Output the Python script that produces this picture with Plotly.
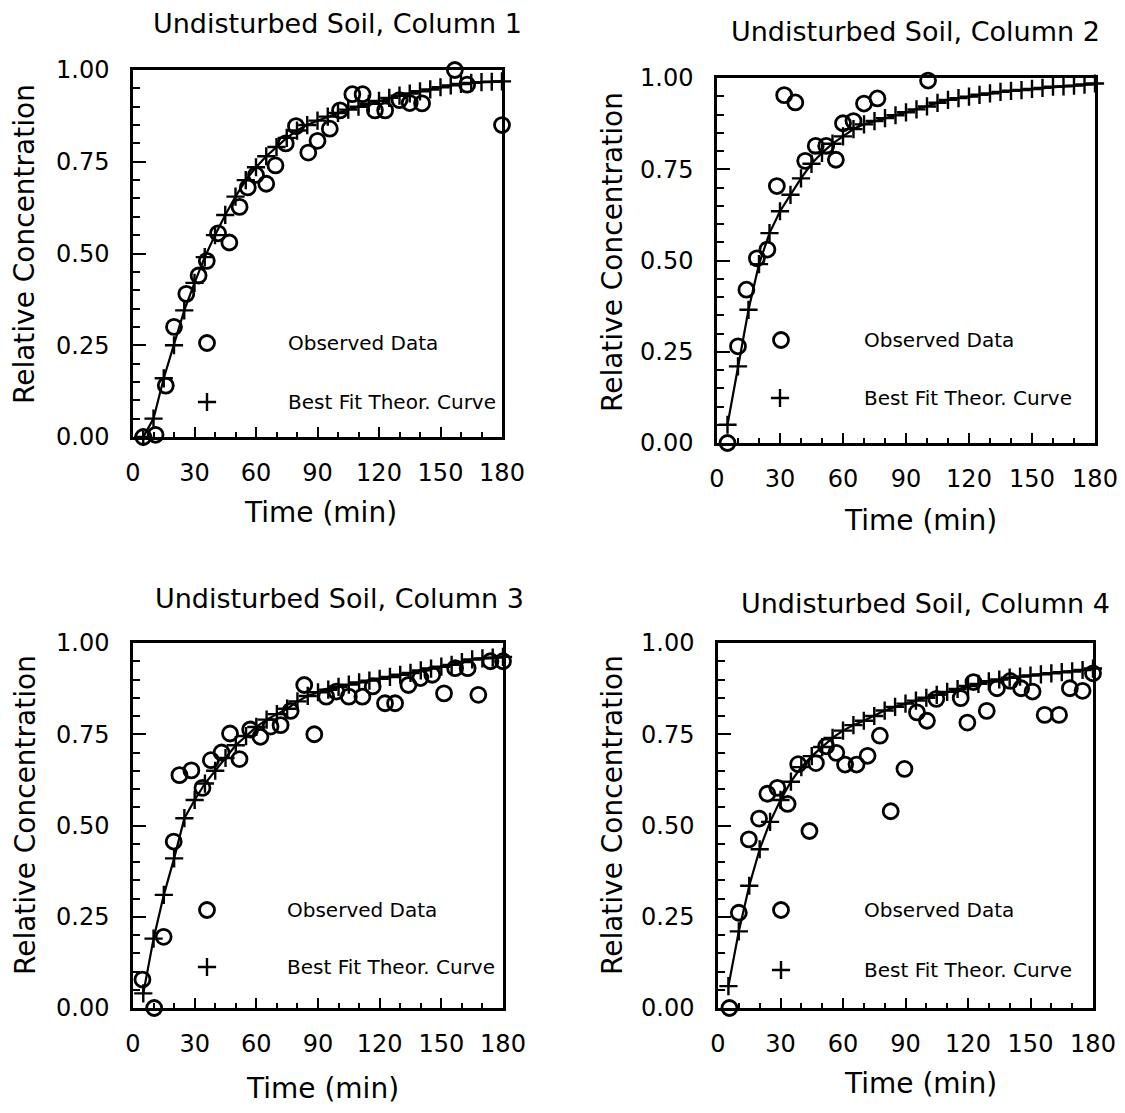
import plotly.graph_objects as go

PAGE_W, PAGE_H = 1125, 1113
BODY_MARGIN = 8
W, H = PAGE_W - 2 * BODY_MARGIN, PAGE_H - 2 * BODY_MARGIN

# ---------------- data ----------------
TITLES = ["Undisturbed Soil, Column 1", "Undisturbed Soil, Column 2",
          "Undisturbed Soil, Column 3", "Undisturbed Soil, Column 4"]
X_TITLE = "Time (min)"
Y_TITLE = "Relative Concentration"
LEGEND_OBS = "Observed Data"
LEGEND_FIT = "Best Fit Theor. Curve"
X_TICKS = [0, 30, 60, 90, 120, 150, 180]
Y_TICKS = [0.0, 0.25, 0.50, 0.75, 1.00]

obs_time_1 = [5, 11, 16, 20, 26, 32, 36, 41.5, 47, 52, 56, 60, 65, 69.5, 74.5, 79.5,
              85.5, 90, 96, 101, 107, 112, 118, 123, 130, 135, 141, 157, 163, 180]
obs_conc_1 = [0.0, 0.006, 0.14, 0.30, 0.39, 0.44, 0.48, 0.555, 0.53, 0.627, 0.68, 0.714,
              0.69, 0.74, 0.80, 0.847, 0.775, 0.807, 0.84, 0.89, 0.934, 0.934, 0.89, 0.89,
              0.918, 0.91, 0.909, 1.0, 0.96, 0.85]

obs_time_2 = [5, 10, 14, 19, 24, 28.5, 32, 37.3, 42, 47, 52, 56.6, 60, 65, 70, 76.4, 100.5]
obs_conc_2 = [0.0, 0.265, 0.42, 0.506, 0.53, 0.704, 0.953, 0.933, 0.773, 0.814, 0.814,
              0.776, 0.876, 0.882, 0.93, 0.944, 0.993]

obs_time_3 = [4.6, 10.3, 14.9, 19.8, 22.6, 28.4, 33.8, 37.9, 43.1, 47.2, 51.8, 57, 62, 66.9,
              71.8, 76.7, 83.3, 88.2, 94, 98.9, 105, 111.6, 116.6, 122.6, 127.5, 134, 139.8,
              145.6, 151.3, 156.7, 162.8, 168, 173.9, 180]
obs_conc_3 = [0.078, 0.0, 0.195, 0.456, 0.638, 0.651, 0.603, 0.679, 0.70, 0.752, 0.682,
              0.763, 0.743, 0.771, 0.775, 0.814, 0.885, 0.75, 0.853, 0.867, 0.853, 0.853,
              0.881, 0.835, 0.835, 0.885, 0.904, 0.913, 0.862, 0.931, 0.931, 0.858, 0.95, 0.95]

obs_time_4 = [5.5, 10, 14.8, 19.7, 23.7, 28.5, 33.4, 38.5, 43.9, 47, 51.9, 56.8, 61, 66.5,
              71.8, 77.7, 82.9, 89.5, 95.5, 100.3, 104.8, 116.5, 119.7, 122.6, 129, 133.9,
              140.3, 145.5, 151, 156.8, 163.7, 168.9, 175, 180]
obs_conc_4 = [0.0, 0.261, 0.462, 0.519, 0.587, 0.603, 0.559, 0.668, 0.485, 0.671, 0.717,
              0.699, 0.667, 0.667, 0.691, 0.746, 0.539, 0.655, 0.81, 0.787, 0.847, 0.849,
              0.782, 0.893, 0.814, 0.876, 0.896, 0.876, 0.867, 0.803, 0.803, 0.876, 0.869, 0.917]

fit_time = [5, 10, 15, 20, 25, 30, 35, 40, 45, 50, 55, 60, 65, 70, 75, 80, 85, 90,
            95, 100, 105, 110, 115, 120, 125, 130, 135, 140, 145, 150, 155, 160, 165, 170, 175, 180]
fit_conc_1 = [0.0, 0.05, 0.16, 0.25, 0.345, 0.42, 0.49, 0.55, 0.605, 0.655, 0.70, 0.735,
              0.765, 0.79, 0.815, 0.835, 0.85, 0.862, 0.873, 0.883, 0.892, 0.90, 0.908, 0.916,
              0.924, 0.93, 0.936, 0.942, 0.947, 0.953, 0.958, 0.962, 0.965, 0.967, 0.968, 0.969]
fit_conc_2 = [0.05, 0.21, 0.365, 0.49, 0.575, 0.635, 0.68, 0.725, 0.765, 0.795, 0.82, 0.84,
              0.86, 0.873, 0.882, 0.89, 0.898, 0.906, 0.914, 0.922, 0.932, 0.94, 0.945, 0.949,
              0.954, 0.958, 0.962, 0.965, 0.967, 0.97, 0.973, 0.976, 0.977, 0.979, 0.982, 0.985]
fit_conc_3 = [0.04, 0.19, 0.31, 0.41, 0.52, 0.57, 0.615, 0.65, 0.685, 0.72, 0.745, 0.77,
              0.79, 0.805, 0.82, 0.84, 0.855, 0.865, 0.872, 0.88, 0.886, 0.892, 0.897, 0.902,
              0.907, 0.913, 0.918, 0.925, 0.93, 0.935, 0.94, 0.948, 0.955, 0.958, 0.96, 0.962]
fit_conc_4 = [0.06, 0.21, 0.335, 0.435, 0.51, 0.57, 0.62, 0.66, 0.69, 0.715, 0.74, 0.76,
              0.775, 0.787, 0.80, 0.815, 0.825, 0.834, 0.842, 0.85, 0.858, 0.866, 0.874, 0.882,
              0.888, 0.895, 0.90, 0.905, 0.908, 0.911, 0.914, 0.917, 0.92, 0.922, 0.926, 0.93]

OBS_T = [obs_time_1, obs_time_2, obs_time_3, obs_time_4]
OBS_C = [obs_conc_1, obs_conc_2, obs_conc_3, obs_conc_4]
FIT_C = [fit_conc_1, fit_conc_2, fit_conc_3, fit_conc_4]

# ---------------- layout (page pixels) ----------------
BOX = [(133, 502, 70, 437), (717, 1095, 78, 443), (133, 503, 643, 1008), (718, 1093, 643, 1008)]
TITLE_POS = [(337, 24), (915, 32), (339, 598), (925, 603)]
XTITLE_POS = [(320, 512), (920, 520), (322, 1088), (920, 1083)]
YTITLE_POS = [(25, 244), (612, 252), (25, 815), (612, 815)]
KEY_OBS = [(207, 343), (781, 340), (207, 910), (781, 910)]
KEY_FIT = [(207, 402), (780, 398), (207, 967), (781, 970)]
TXT_X = [286, 862, 285, 862]

FONT = "DejaVu Sans"
X_RANGE = [0, 180]
Y_RANGE = [0, 1]


def px(x):
    return (x - BODY_MARGIN) / W


def py(y):
    return 1 - (y - BODY_MARGIN) / H


def to_data(i, x, y):
    x0, x1, y0, y1 = BOX[i]
    t = X_RANGE[0] + (x - x0) / (x1 - x0) * (X_RANGE[1] - X_RANGE[0])
    c = Y_RANGE[0] + (y1 - y) / (y1 - y0) * (Y_RANGE[1] - Y_RANGE[0])
    return t, c


fig = go.Figure()
annotations = []
layout = dict(
    width=W, height=H, margin=dict(l=0, r=0, t=0, b=0, pad=0, autoexpand=False),
    paper_bgcolor="white", plot_bgcolor="white", showlegend=False,
    font=dict(family=FONT, color="black"),
)

CIRCLE = dict(symbol="circle-open", size=15, color="black", line=dict(color="black", width=2.8))
CROSS = dict(symbol="cross-thin", size=13, line=dict(color="black", width=2.4))

for i in range(4):
    n = "" if i == 0 else str(i + 1)
    xa, ya = "x" + n, "y" + n
    x0, x1, y0, y1 = BOX[i]
    axis_common = dict(showgrid=False, zeroline=False, showline=True, mirror=True,
                       linecolor="black", linewidth=2.5, ticks="inside", tickcolor="black",
                       tickwidth=2, automargin=False, ticklabeloverflow="allow",
                       tickfont=dict(family=FONT, size=24, color="black"))
    layout["xaxis" + n] = dict(axis_common, domain=[px(x0), px(x1)], range=X_RANGE,
                               anchor=ya, tickvals=X_TICKS, ticklen=10,
                               ticklabelstandoff=12,
                               minor=dict(dtick=10, ticklen=5, tickwidth=2, tickcolor="black",
                                          ticks="inside"))
    layout["yaxis" + n] = dict(axis_common, domain=[py(y1), py(y0)], range=Y_RANGE,
                               anchor=xa, tickvals=Y_TICKS, tickformat=".2f", ticklen=13,
                               ticklabelstandoff=16,
                               minor=dict(dtick=0.05, ticklen=7, tickwidth=2, tickcolor="black",
                                          ticks="inside"))

    fig.add_trace(go.Scatter(x=fit_time, y=FIT_C[i], mode="lines+markers", xaxis=xa, yaxis=ya,
                             line=dict(color="black", width=2.2), marker=CROSS,
                             cliponaxis=False, name=LEGEND_FIT))
    fig.add_trace(go.Scatter(x=OBS_T[i], y=OBS_C[i], mode="markers", xaxis=xa, yaxis=ya,
                             marker=CIRCLE, cliponaxis=False, name=LEGEND_OBS))
    ko = to_data(i, *KEY_OBS[i])
    kf = to_data(i, *KEY_FIT[i])
    fig.add_trace(go.Scatter(x=[ko[0]], y=[ko[1]], mode="markers", xaxis=xa, yaxis=ya,
                             marker=CIRCLE, hoverinfo="skip"))
    fig.add_trace(go.Scatter(x=[kf[0]], y=[kf[1]], mode="markers", xaxis=xa, yaxis=ya,
                             marker=CROSS, hoverinfo="skip"))

    annotations += [
        dict(text=TITLES[i], x=px(TITLE_POS[i][0]), y=py(TITLE_POS[i][1]), xref="paper",
             yref="paper", showarrow=False, xanchor="center", yanchor="middle",
             font=dict(family=FONT, size=27, color="black")),
        dict(text=X_TITLE, x=px(XTITLE_POS[i][0]), y=py(XTITLE_POS[i][1]), xref="paper",
             yref="paper", showarrow=False, xanchor="center", yanchor="middle",
             font=dict(family=FONT, size=28, color="black")),
        dict(text=Y_TITLE, x=px(YTITLE_POS[i][0]), y=py(YTITLE_POS[i][1]), xref="paper",
             yref="paper", showarrow=False, xanchor="center", yanchor="middle", textangle=-90,
             font=dict(family=FONT, size=28, color="black")),
        dict(text=LEGEND_OBS, x=px(TXT_X[i]), y=py(KEY_OBS[i][1]), xref="paper",
             yref="paper", showarrow=False, xanchor="left", yanchor="middle",
             font=dict(family=FONT, size=20, color="black")),
        dict(text=LEGEND_FIT, x=px(TXT_X[i]), y=py(KEY_FIT[i][1]), xref="paper",
             yref="paper", showarrow=False, xanchor="left", yanchor="middle",
             font=dict(family=FONT, size=20, color="black")),
    ]

layout["annotations"] = annotations
fig.update_layout(**layout)
fig.write_html("out.html")
